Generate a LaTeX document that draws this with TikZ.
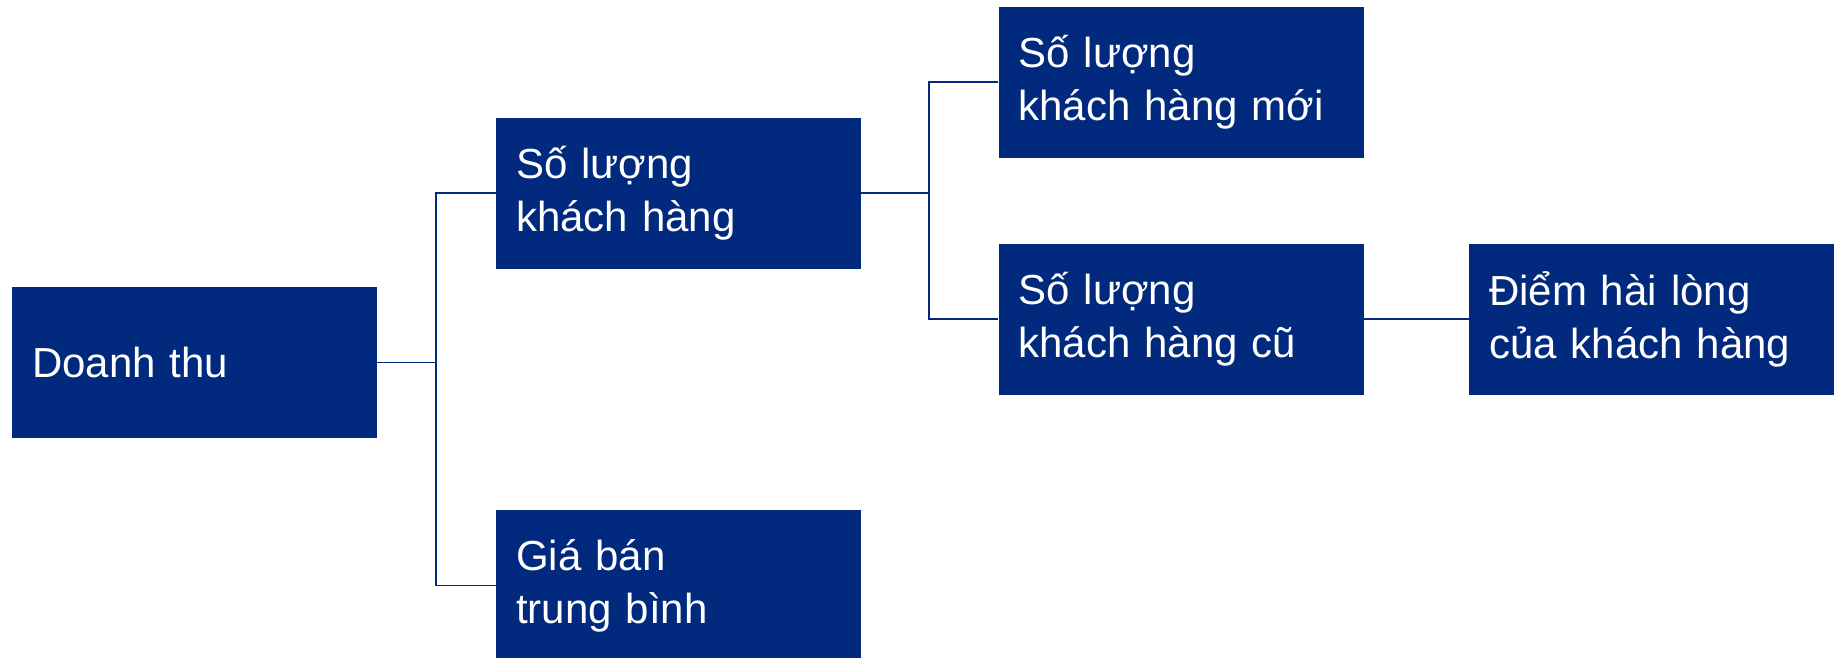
\documentclass[tikz,border=0pt]{standalone}
\usepackage{fontspec}
\setmainfont{Liberation Sans}
\definecolor{navy}{RGB}{1,42,126}

\begin{document}
\begin{tikzpicture}[
            x=1pt, y=-1pt,
            box/.style={rectangle, fill=navy, text=white, minimum width=365pt, minimum height=151pt,
                inner xsep=20pt, inner ysep=0pt, text width=325pt, align=left,
                font=\fontsize{42}{53}\selectfont},
            link/.style={draw=navy, line width=1.5pt}
        ]
            \useasboundingbox (0,0) rectangle (1836,657);
            \clip (0,0) rectangle (1836,657);

            % Revenue
            \node[box] (rev) at (194.5,362.5) {Doanh thu};

            % Customers and price
            \node[box] (cust) at (678.5,193) {Số lượng\\khách hàng};
            \node[box] (price) at (678.5,585.5) {Giá bán\\trung bình};

            % New and returning customers
            \node[box] (newc) at (1181,82) {Số lượng\\khách hàng mới};
            \node[box] (oldc) at (1181,319) {Số lượng\\khách hàng cũ};

            % Satisfaction
            \node[box] (score) at (1651.5,319) {Điểm hài lòng\\của khách hàng};

            % Connections
            \draw[link] (rev.east) -- ++(59,0) coordinate (j1);
            \draw[link] (j1) |- (cust.west);
            \draw[link] (j1) |- (price.west);
            \draw[link] (cust.east) -- ++(68,0) coordinate (j2);
            \draw[link] (j2) |- (newc.west);
            \draw[link] (j2) |- (oldc.west);
            \draw[link] (oldc) -- (score);

        \end{tikzpicture}
\end{document}
